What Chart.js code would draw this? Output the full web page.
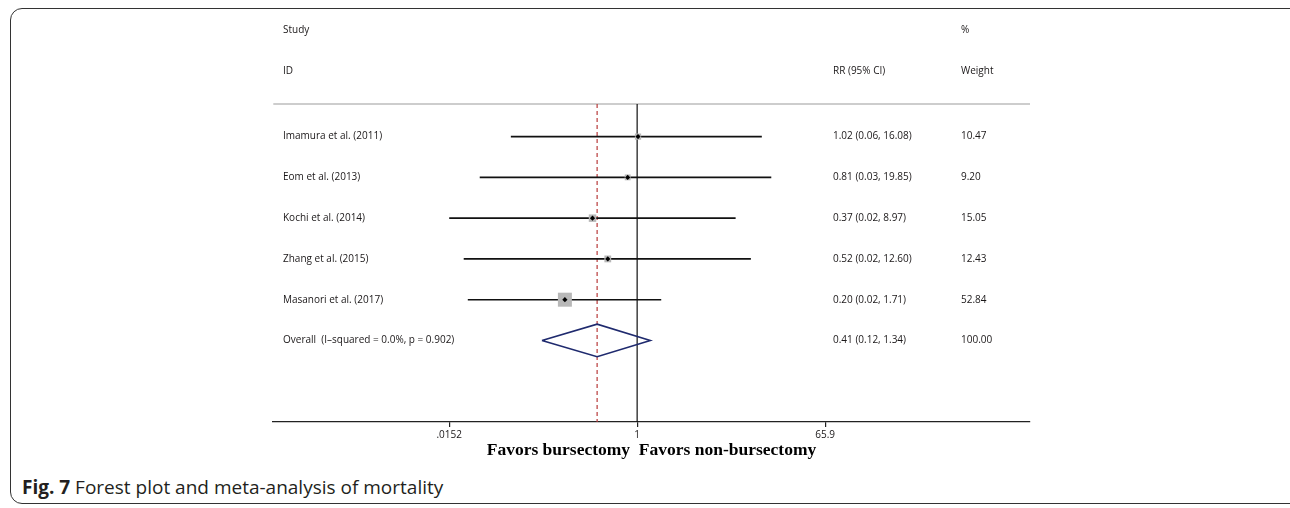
<!DOCTYPE html>
<html>
<head>
<meta charset="utf-8">
<title>Forest plot - mortality</title>
<script src="https://cdn.jsdelivr.net/npm/chart.js@4.4.1/dist/chart.umd.min.js"></script>
<style>
  html, body { margin: 0; padding: 0; background: #fff; }
  body { width: 1290px; height: 508px; position: relative; overflow: hidden; font-family: 'Open Sans', sans-serif; }
  #frame { position: absolute; left: 10px; top: 8px; width: 1300px; height: 496px; border: 1.5px solid #333; border-radius: 12px; box-sizing: border-box; }
  #wrap { position: absolute; left: 0; top: 0; width: 1290px; height: 461px; }
  #caption { position: absolute; left: 22px; top: 474px; font-size: 19px; color: #231f20; white-space: nowrap; }
  #caption b { font-weight: 700; }
</style>
</head>
<body>
<div id="frame"></div>
<div id="wrap"><canvas id="forestChart"></canvas></div>
<div id="caption"><b>Fig. 7</b> Forest plot and meta-analysis of mortality</div>

<script>
// Study data
const studies = ['Imamura et al. (2011)', 'Eom et al. (2013)', 'Kochi et al. (2014)', 'Zhang et al. (2015)', 'Masanori et al. (2017)'];
const rr = [1.02, 0.81, 0.37, 0.52, 0.20];
const ciLow = [0.06, 0.03, 0.0152, 0.021, 0.023];
const ciHigh = [16.08, 19.85, 8.97, 12.60, 1.71];
const weights = [10.47, 9.20, 15.05, 12.43, 52.84];

// Pooled estimate
const overallLabel = 'Overall  (I\u2013squared = 0.0%, p = 0.902)';
const pooledRR = 0.41;
const pooledLow = 0.12;
const pooledHigh = 1.34;
const pooledWeight = 100.00;

// Axis
const tickValues = [0.0152, 1, 65.9];
const tickLabels = ['.0152', '1', '65.9'];
const axisTitle = 'Favors bursectomy  Favors non-bursectomy';

// Column headers
const headerTop = ['Study', '', '%'];
const headerBottom = ['ID', 'RR (95% CI)', 'Weight'];

// Layout bits (pixels / row units)
const X_MIN = 3.02e-4;
const X_MAX = 6320;
const Y_TOP = 0.2;
const Y_BOTTOM = 8;
const HEADER_ROWS = [-1.6, -0.6];
const COLS = [283, 833, 961];
const DIAMOND_HALF = 0.4;
const MAX_BOX = 14;
const TEXT_COLOR = '#1a1718';

function ciText(est, lo, hi) {
  return `${est.toFixed(2)} (${lo.toFixed(2)}, ${hi.toFixed(2)})`;
}

// Text columns, positioned with the y scale
const tableText = {
  id: 'tableText',
  afterDraw(chart) {
    const ctx = chart.ctx;
    const yScale = chart.scales.y;
    const put = (txt, x, row) => ctx.fillText(txt, x, yScale.getPixelForValue(row));

    ctx.save();
    ctx.font = '10px "Open Sans"';
    ctx.fillStyle = TEXT_COLOR;
    ctx.textBaseline = 'middle';
    ctx.textAlign = 'left';

    headerTop.forEach((h, i) => { if (h) put(h, COLS[i], HEADER_ROWS[0]); });
    headerBottom.forEach((h, i) => put(h, COLS[i], HEADER_ROWS[1]));

    studies.forEach((name, i) => {
      const row = i + 1;
      put(name, COLS[0], row);
      put(ciText(rr[i], ciLow[i], ciHigh[i]), COLS[1], row);
      put(weights[i].toFixed(2), COLS[2], row);
    });

    const oRow = studies.length + 1;
    put(overallLabel, COLS[0], oRow);
    put(ciText(pooledRR, pooledLow, pooledHigh), COLS[1], oRow);
    put(pooledWeight.toFixed(2), COLS[2], oRow);
    ctx.restore();
  }
};

// lower order = drawn on top
function buildDatasets() {
  const datasets = [];
  const oRow = studies.length + 1;

  // header rule
  datasets.push({
    type: 'line',
    order: 6,
    data: [{ x: X_MIN, y: Y_TOP }, { x: X_MAX, y: Y_TOP }],
    borderColor: '#bdbdbd',
    borderWidth: 1.5,
    pointRadius: 0,
    clip: false
  });

  // no-effect line
  datasets.push({
    type: 'line',
    order: 5,
    data: [{ x: 1, y: Y_TOP }, { x: 1, y: Y_BOTTOM }],
    borderColor: '#111',
    borderWidth: 1.2,
    pointRadius: 0
  });

  // pooled estimate line
  datasets.push({
    type: 'line',
    order: 4,
    data: [{ x: pooledRR, y: Y_TOP }, { x: pooledRR, y: Y_BOTTOM }],
    borderColor: '#b83a3a',
    borderWidth: 1.2,
    borderDash: [4, 3],
    pointRadius: 0
  });

  // confidence intervals
  studies.forEach((s, i) => {
    datasets.push({
      type: 'line',
      order: 3,
      data: [{ x: ciLow[i], y: i + 1 }, { x: ciHigh[i], y: i + 1 }],
      borderColor: '#111',
      borderWidth: 1.6,
      pointRadius: 0
    });
  });

  // weight boxes
  const maxW = Math.max(...weights);
  datasets.push({
    type: 'scatter',
    order: 2,
    data: rr.map((v, i) => ({ x: v, y: i + 1 })),
    pointStyle: 'rect',
    pointRadius: weights.map(w => MAX_BOX * Math.sqrt(w / maxW) / Math.SQRT2),
    backgroundColor: '#b8b8b8',
    borderWidth: 0
  });

  // point estimates
  datasets.push({
    type: 'scatter',
    order: 0,
    data: rr.map((v, i) => ({ x: v, y: i + 1 })),
    pointStyle: 'rectRot',
    pointRadius: 2.6,
    backgroundColor: '#000',
    borderWidth: 0
  });

  // overall diamond
  datasets.push({
    type: 'line',
    order: 1,
    data: [
      { x: pooledLow, y: oRow },
      { x: pooledRR, y: oRow - DIAMOND_HALF },
      { x: pooledHigh, y: oRow },
      { x: pooledRR, y: oRow + DIAMOND_HALF },
      { x: pooledLow, y: oRow }
    ],
    borderColor: '#1f2a6e',
    borderWidth: 1.6,
    pointRadius: 0,
    tension: 0
  });

  return datasets;
}

function drawChart() {
  const ctx = document.getElementById('forestChart');
  new Chart(ctx, {
    type: 'scatter',
    data: { datasets: buildDatasets() },
    options: {
      responsive: true,
      maintainAspectRatio: false,
      animation: false,
      layout: { padding: { left: 273, right: 260, top: 104, bottom: 0 } },
      plugins: { legend: { display: false }, tooltip: { enabled: false } },
      scales: {
        x: {
          type: 'logarithmic',
          min: X_MIN,
          max: X_MAX,
          afterBuildTicks: scale => { scale.ticks = tickValues.map(v => ({ value: v })); },
          afterFit: scale => { scale.height = 39; },
          ticks: {
            autoSkip: false,
            maxRotation: 0,
            padding: 2,
            color: TEXT_COLOR,
            font: { family: 'Open Sans', size: 10 },
            callback: (value, index) => tickLabels[index]
          },
          grid: { drawOnChartArea: false, drawTicks: true, tickLength: 5, color: '#222', lineWidth: 1.2 },
          border: { display: true, color: '#222', width: 1.3 },
          title: {
            display: true,
            text: axisTitle,
            color: '#000',
            padding: { top: 0, bottom: 0 },
            font: { family: 'Liberation Serif', size: 17.5, weight: 'bold' }
          }
        },
        y: {
          type: 'linear',
          reverse: true,
          min: Y_TOP,
          max: Y_BOTTOM,
          display: false
        }
      }
    },
    plugins: [tableText]
  });
}

document.addEventListener('DOMContentLoaded', drawChart);
</script>
</body>
</html>
